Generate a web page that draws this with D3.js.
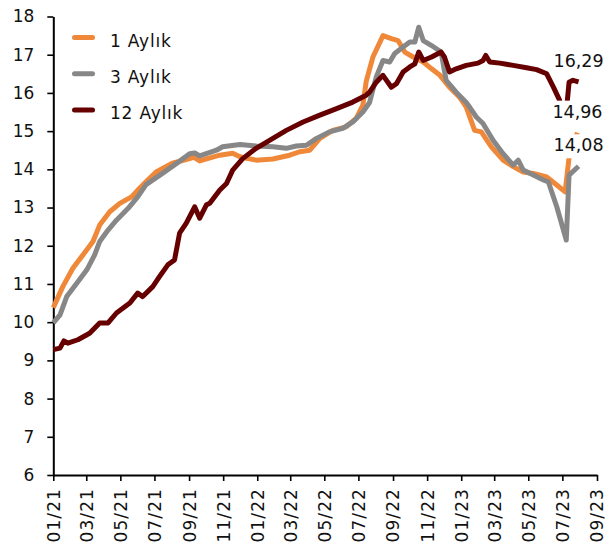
<!DOCTYPE html>
<html>
<head>
<meta charset="utf-8">
<script src="https://cdn.jsdelivr.net/npm/d3@7"></script>
<style>
  body { margin: 0; background: #fff; }
  text { font-family: "DejaVu Sans", sans-serif; fill: #111; }
</style>
</head>
<body>
<div id="chart"></div>
<script>
// series names, in legend order
var seriesNames = ["1 Aylık", "3 Aylık", "12 Aylık"];
var seriesColors = ["#f0883a", "#878787", "#660000"];

// 1 Aylık
var oneMonth = [
  ["2021-01-01", 10.38], ["2021-01-18", 10.93], ["2021-02-05", 11.41], ["2021-02-23", 11.76],
  ["2021-03-13", 12.11], ["2021-03-25", 12.54], ["2021-04-12", 12.89], ["2021-04-30", 13.11],
  ["2021-05-21", 13.28], ["2021-06-04", 13.50], ["2021-06-19", 13.72], ["2021-07-04", 13.93],
  ["2021-08-02", 14.16], ["2021-09-02", 14.28], ["2021-09-09", 14.32], ["2021-09-20", 14.22],
  ["2021-10-13", 14.32], ["2021-10-26", 14.37], ["2021-11-18", 14.42], ["2021-12-01", 14.33],
  ["2021-12-13", 14.29], ["2021-12-30", 14.24], ["2022-01-29", 14.27], ["2022-02-28", 14.37],
  ["2022-03-18", 14.46], ["2022-04-05", 14.50], ["2022-04-23", 14.81], ["2022-05-16", 15.02],
  ["2022-06-09", 15.11], ["2022-06-27", 15.33], ["2022-07-09", 15.68], ["2022-07-15", 16.30],
  ["2022-07-27", 16.94], ["2022-08-14", 17.50], ["2022-08-29", 17.42], ["2022-09-10", 17.37],
  ["2022-09-22", 17.07], ["2022-10-07", 16.94], ["2022-10-25", 16.81], ["2022-11-09", 16.63],
  ["2022-11-24", 16.46], ["2022-12-11", 16.15], ["2022-12-29", 15.89], ["2023-01-10", 15.63],
  ["2023-01-25", 15.02], ["2023-02-06", 14.98], ["2023-02-24", 14.59], ["2023-03-17", 14.24],
  ["2023-04-04", 14.07], ["2023-04-22", 13.93], ["2023-05-10", 13.89], ["2023-06-03", 13.80],
  ["2023-06-21", 13.59], ["2023-07-06", 13.41], ["2023-07-13", 14.31], ["2023-07-28", 14.96]
];

// 3 Aylık
var threeMonth = [
  ["2021-01-01", 9.98], ["2021-01-13", 10.19], ["2021-01-25", 10.67], ["2021-02-12", 11.02],
  ["2021-03-02", 11.37], ["2021-03-16", 11.76], ["2021-03-25", 12.11], ["2021-04-09", 12.41],
  ["2021-04-24", 12.67], ["2021-05-15", 12.98], ["2021-06-01", 13.28], ["2021-06-16", 13.60],
  ["2021-07-16", 13.90], ["2021-08-09", 14.15], ["2021-09-02", 14.41], ["2021-09-11", 14.43],
  ["2021-09-20", 14.35], ["2021-10-20", 14.50], ["2021-10-31", 14.59], ["2021-12-01", 14.65],
  ["2021-12-30", 14.61], ["2022-01-29", 14.59], ["2022-02-22", 14.55], ["2022-03-12", 14.61],
  ["2022-03-30", 14.63], ["2022-04-17", 14.81], ["2022-05-10", 14.98], ["2022-06-03", 15.07],
  ["2022-06-21", 15.24], ["2022-07-09", 15.50], ["2022-07-21", 15.75], ["2022-08-02", 16.42],
  ["2022-08-14", 16.85], ["2022-08-26", 16.81], ["2022-09-04", 17.03], ["2022-09-19", 17.20],
  ["2022-10-01", 17.33], ["2022-10-10", 17.33], ["2022-10-17", 17.72], ["2022-10-25", 17.37],
  ["2022-11-09", 17.24], ["2022-11-26", 17.07], ["2022-12-05", 16.33], ["2022-12-23", 16.02],
  ["2023-01-10", 15.75], ["2023-01-16", 15.63], ["2023-01-28", 15.37], ["2023-02-09", 15.20],
  ["2023-02-27", 14.76], ["2023-03-17", 14.41], ["2023-04-04", 14.11], ["2023-04-13", 14.24],
  ["2023-04-22", 13.98], ["2023-05-10", 13.85], ["2023-05-28", 13.72], ["2023-06-06", 13.67],
  ["2023-06-21", 13.02], ["2023-07-08", 12.15], ["2023-07-13", 13.85], ["2023-07-30", 14.08]
];

// 12 Aylık
var twelveMonth = [
  ["2021-01-01", 9.28], ["2021-01-13", 9.32], ["2021-01-20", 9.51], ["2021-01-27", 9.45],
  ["2021-02-14", 9.54], ["2021-03-07", 9.71], ["2021-03-25", 9.98], ["2021-04-09", 9.98],
  ["2021-04-24", 10.24], ["2021-05-18", 10.50], ["2021-06-01", 10.76], ["2021-06-10", 10.67],
  ["2021-06-28", 10.93], ["2021-07-10", 11.19], ["2021-07-25", 11.50], ["2021-08-06", 11.63],
  ["2021-08-15", 12.33], ["2021-08-27", 12.59], ["2021-09-11", 13.02], ["2021-09-20", 12.72],
  ["2021-10-02", 13.07], ["2021-10-08", 13.11], ["2021-10-26", 13.46], ["2021-11-07", 13.63],
  ["2021-11-18", 13.98], ["2021-12-06", 14.28], ["2021-12-30", 14.55], ["2022-01-23", 14.76],
  ["2022-02-22", 15.02], ["2022-03-24", 15.24], ["2022-04-23", 15.42], ["2022-05-23", 15.59],
  ["2022-06-21", 15.76], ["2022-07-15", 15.94], ["2022-07-21", 16.02], ["2022-08-02", 16.28],
  ["2022-08-14", 16.46], ["2022-08-29", 16.15], ["2022-09-07", 16.24], ["2022-09-19", 16.55],
  ["2022-10-01", 16.68], ["2022-10-10", 16.76], ["2022-10-17", 17.07], ["2022-10-25", 16.85],
  ["2022-11-09", 16.94], ["2022-11-26", 17.07], ["2022-12-02", 16.94], ["2022-12-11", 16.55],
  ["2022-12-23", 16.63], ["2023-01-10", 16.72], ["2023-01-31", 16.78], ["2023-02-09", 16.85],
  ["2023-02-14", 16.98], ["2023-02-21", 16.81], ["2023-03-11", 16.78], ["2023-04-04", 16.72],
  ["2023-04-28", 16.66], ["2023-05-16", 16.61], ["2023-06-03", 16.50], ["2023-06-15", 16.15],
  ["2023-06-26", 15.81], ["2023-07-03", 15.30], ["2023-07-10", 15.81], ["2023-07-13", 16.28],
  ["2023-07-20", 16.33], ["2023-07-30", 16.29]
];

// axis ticks
var yTicks = [6, 7, 8, 9, 10, 11, 12, 13, 14, 15, 16, 17, 18];
var xTicks = ["2021-01-01", "2021-03-01", "2021-05-01", "2021-07-01", "2021-09-01", "2021-11-01",
              "2022-01-01", "2022-03-01", "2022-05-01", "2022-07-01", "2022-09-01", "2022-11-01",
              "2023-01-01", "2023-03-01", "2023-05-01", "2023-07-01", "2023-09-01"];

var parse = d3.timeParse("%Y-%m-%d");
var trLocale = d3.formatLocale({decimal: ",", thousands: ".", grouping: [3], currency: ["", " TL"]});
var fmt = trLocale.format(".2f");

var width = 608, height = 547;
var svg = d3.select("#chart").append("svg")
  .attr("width", width)
  .attr("height", height);

var x = d3.scaleTime()
  .domain([parse(xTicks[0]), parse(xTicks[xTicks.length - 1])])
  .range([53.3, 597]);
var y = d3.scaleLinear()
  .domain([6, 18])
  .range([475, 16.5]);

// y axis
var yAxis = svg.append("g")
  .attr("transform", "translate(53.3,0)")
  .call(d3.axisLeft(y).tickValues(yTicks).tickSize(6).tickPadding(13).tickSizeOuter(0));
yAxis.select(".domain").attr("stroke", "#000").attr("stroke-width", 2);
yAxis.selectAll(".tick line").attr("stroke", "#000").attr("stroke-width", 1.6);
yAxis.selectAll("text").style("font-size", "17px").attr("fill", "#111");

// x axis, labels turned upright
var xAxis = svg.append("g")
  .attr("transform", "translate(0,475)")
  .call(d3.axisBottom(x).tickValues(xTicks.map(parse)).tickFormat(d3.timeFormat("%m/%y"))
    .tickSize(6).tickSizeOuter(0));
xAxis.select(".domain").attr("stroke", "#000").attr("stroke-width", 2);
xAxis.selectAll(".tick line").attr("stroke", "#000").attr("stroke-width", 1.6);
xAxis.selectAll("text")
  .attr("transform", "rotate(-90)")
  .attr("text-anchor", "end")
  .attr("x", -13)
  .attr("y", 0)
  .attr("dy", "0.35em")
  .style("font-size", "17px")
  .style("letter-spacing", "1.1px")
  .attr("fill", "#111");

// lines
var allSeries = [oneMonth, threeMonth, twelveMonth];
var line = d3.line()
  .x(function(d) { return x(parse(d[0])); })
  .y(function(d) { return y(d[1]); });

for (var i = 0; i < allSeries.length; i++) {
  svg.append("path")
    .datum(allSeries[i])
    .attr("fill", "none")
    .attr("stroke", seriesColors[i])
    .attr("stroke-width", 5)
    .attr("stroke-linejoin", "round")
    .attr("d", line);
}

// end labels with a white box behind them
for (var i = 0; i < allSeries.length; i++) {
  var last = allSeries[i][allSeries[i].length - 1];
  var g = svg.append("g");
  var t = g.append("text")
    .attr("x", x(parse(last[0])))
    .attr("y", y(last[1]) - 15)
    .attr("text-anchor", "middle")
    .style("font-size", "17.5px")
    .text(fmt(last[1]));
  var bb = t.node().getBBox();
  g.insert("rect", "text")
    .attr("x", bb.x - 2)
    .attr("y", bb.y - 1)
    .attr("width", bb.width + 4)
    .attr("height", bb.height + 4)
    .attr("fill", "#fff");
}

// legend
var legend = svg.append("g");
for (var i = 0; i < seriesNames.length; i++) {
  var ly = 37.5 + i * 36.3;
  legend.append("line")
    .attr("x1", 74.5).attr("x2", 92.5)
    .attr("y1", ly).attr("y2", ly)
    .attr("stroke", seriesColors[i])
    .attr("stroke-width", 5)
    .attr("stroke-linecap", "round");
  legend.append("text")
    .attr("x", 110)
    .attr("y", ly + 9)
    .style("font-size", "17px")
    .style("letter-spacing", "0.8px")
    .text(seriesNames[i]);
}
</script>
</body>
</html>
